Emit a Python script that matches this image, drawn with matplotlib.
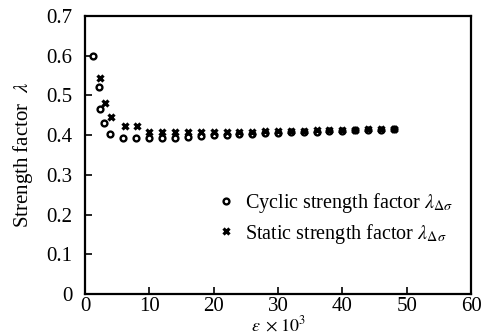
import matplotlib
matplotlib.use("Agg")
import matplotlib.pyplot as plt

plt.rcParams['font.family'] = ['Liberation Serif', 'DejaVu Serif']
plt.rcParams['mathtext.fontset'] = 'stix'

# cyclic strength factor (circles)
cyc_x = [1.2, 2.2, 2.4, 2.9, 3.9, 5.9, 7.9, 10, 12, 14, 16, 18, 20, 22, 24, 26, 28,
         30, 32, 34, 36, 38, 40, 42, 44, 46, 48]
cyc_y = [0.600, 0.520, 0.465, 0.430, 0.403, 0.392, 0.392, 0.392, 0.393, 0.394, 0.396,
         0.398, 0.400, 0.401, 0.402, 0.404, 0.405, 0.406, 0.407, 0.408, 0.409, 0.410,
         0.411, 0.412, 0.413, 0.414, 0.415]

# static strength factor (crosses)
sta_x = [2.3, 3.1, 4.0, 6.2, 8.1, 10, 12, 14, 16, 18, 20, 22, 24, 26, 28,
         30, 32, 34, 36, 38, 40, 42, 44, 46, 48]
sta_y = [0.545, 0.480, 0.446, 0.424, 0.422, 0.407, 0.407, 0.407, 0.407, 0.407, 0.408,
         0.408, 0.409, 0.409, 0.410, 0.410, 0.411, 0.411, 0.412, 0.413, 0.414, 0.414,
         0.415, 0.415, 0.416]

xticks = [0, 10, 20, 30, 40, 50, 60]
yticks = [0, 0.1, 0.2, 0.3, 0.4, 0.5, 0.6, 0.7]
ytick_labels = ['0', '0.1', '0.2', '0.3', '0.4', '0.5', '0.6', '0.7']

fig = plt.figure(figsize=(4.87, 3.35), dpi=100)
ax = fig.add_axes([85 / 487, 41 / 335, 386 / 487, 278 / 335])

ax.plot(cyc_x, cyc_y, 'o', ms=4.2, mfc='white', mec='black', mew=1.7,
        label=r'Cyclic strength factor $\lambda_{\Delta\sigma}$')
ax.plot(sta_x, sta_y, 'x', ms=5, color='black', mew=2.3,
        label=r'Static strength factor $\lambda_{\Delta\sigma}$')

ax.set_xlim(0, 60)
ax.set_ylim(0, 0.7)
ax.set_xticks(xticks)
ax.set_yticks(yticks)
ax.set_yticklabels(ytick_labels)
ax.tick_params(direction='in', length=5, width=1.2, labelsize=15,
               top=False, right=False)
ax.tick_params(axis='y', pad=9)
ax.tick_params(axis='x', pad=2)
for s in ax.spines.values():
    s.set_linewidth(1.6)

ax.set_xlabel(r'$\varepsilon\ \times 10^{3}$', fontsize=13, va='center')
ax.xaxis.set_label_coords(0.5, -0.11)
ax.set_ylabel(r'Strength factor  $\lambda$', fontsize=15, labelpad=8)

ax.legend(loc='upper left', bbox_to_anchor=(0.32, 0.405), frameon=False,
          fontsize=14.5, handlelength=0.7, handletextpad=0.6, labelspacing=0.3,
          borderpad=0)

fig.savefig('out.png', dpi=100)
